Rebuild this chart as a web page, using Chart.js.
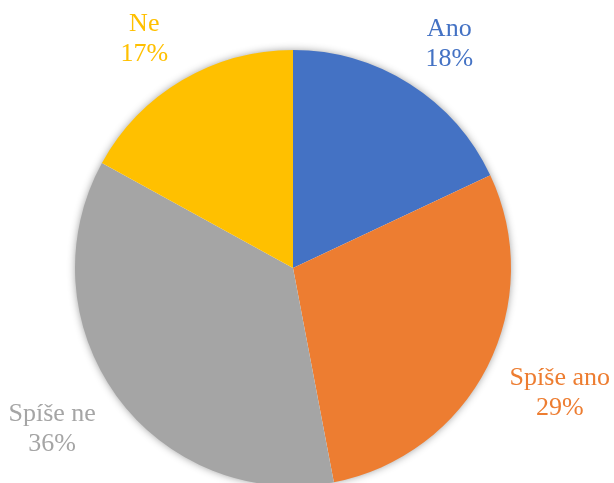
<!DOCTYPE html>
<html>
<head>
<meta charset="utf-8">
<script src="https://cdn.jsdelivr.net/npm/chart.js@4.4.0/dist/chart.umd.min.js"></script>
<style>
  html, body { margin: 0; padding: 0; background: #fff; overflow: hidden; }
  #wrap { width: 614px; height: 483px; }
</style>
</head>
<body>
<div id="wrap"><canvas id="pie"></canvas></div>
<script>
// Answer shares, percent
const answers = ['Ano', 'Spíše ano', 'Spíše ne', 'Ne'];
const shares = [18, 29, 36, 17];
const sliceColors = ['#4472C4', '#ED7D31', '#A5A5A5', '#FFC000'];

const labelFont = '26px "Liberation Serif", serif';

// soft glow behind the whole pie, drawn once so slices don't shade each other
const pieShadow = {
  id: 'pieShadow',
  beforeDatasetsDraw(chart) {
    const arc = chart.getDatasetMeta(0).data[0];
    if (!arc) return;
    const ctx = chart.ctx;
    ctx.save();
    ctx.shadowColor = 'rgba(0, 0, 0, 0.45)';
    ctx.shadowBlur = 9;
    ctx.fillStyle = '#ffffff';
    ctx.beginPath();
    ctx.arc(arc.x, arc.y, arc.outerRadius - 1, 0, Math.PI * 2);
    ctx.fill();
    ctx.restore();
  }
};

// name + percent outside each slice; the text box is pushed clear of the rim
// and its angle eased a little toward the horizontal
const outsideLabels = {
  id: 'outsideLabels',
  afterDatasetsDraw(chart) {
    const ctx = chart.ctx;
    const lineH = 30;
    const gap = 18;
    const ease = 0.045;
    ctx.save();
    ctx.font = labelFont;
    ctx.textAlign = 'center';
    ctx.textBaseline = 'alphabetic';
    chart.getDatasetMeta(0).data.forEach((arc, i) => {
      const lines = [answers[i], shares[i] + '%'];
      const w = Math.max(...lines.map(t => ctx.measureText(t).width));
      const h = lineH * lines.length;
      const mid = (arc.startAngle + arc.endAngle) / 2;
      const a = mid - ease * Math.sin(2 * mid);
      const c = Math.cos(a), s = Math.sin(a);
      const d = arc.outerRadius + gap + (w / 2) * Math.abs(c) + (h / 2) * Math.abs(s);
      const cx = arc.x + d * c;
      const cy = arc.y + d * s;
      ctx.fillStyle = sliceColors[i];
      lines.forEach((t, k) => {
        ctx.fillText(t, cx, cy - h / 2 + lineH / 2 + 8 + k * lineH);
      });
    });
    ctx.restore();
  }
};

const chart = new Chart(document.getElementById('pie'), {
  type: 'pie',
  data: {
    labels: answers,
    datasets: [{
      data: shares,
      backgroundColor: sliceColors,
      borderWidth: 0,
      radius: 218
    }]
  },
  options: {
    responsive: true,
    maintainAspectRatio: false,
    animation: false,
    layout: { padding: { left: 0, right: 28, top: 53, bottom: 0 } },
    plugins: {
      legend: { display: false },
      tooltip: { enabled: false }
    }
  },
  plugins: [pieShadow, outsideLabels]
});

document.fonts.ready.then(() => chart.draw());
</script>
</body>
</html>
